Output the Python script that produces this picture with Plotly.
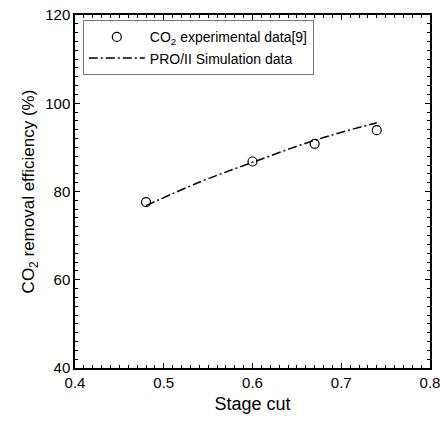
import plotly.graph_objects as go

exp_stage_cut = [0.48, 0.60, 0.67, 0.74]
exp_efficiency = [77.6, 86.8, 90.8, 93.9]

sim_stage_cut = [0.48, 0.54, 0.60, 0.67, 0.74]
sim_efficiency = [76.8, 82.1, 86.6, 91.6, 95.6]

x_ticks = [0.4, 0.5, 0.6, 0.7, 0.8]
y_ticks = [40, 60, 80, 100, 120]

font = "Liberation Sans, Arial, sans-serif"

fig = go.Figure()
fig.add_trace(go.Scatter(
    x=exp_stage_cut, y=exp_efficiency, mode="markers",
    name="CO<sub>2</sub> experimental data[9]",
    marker=dict(symbol="circle-open", size=9, color="black", line=dict(width=1.2, color="black")),
))
fig.add_trace(go.Scatter(
    x=sim_stage_cut, y=sim_efficiency, mode="lines",
    name="PRO/II Simulation data",
    line=dict(color="black", width=1.5, dash="9px,3px,2px,3px", shape="spline"),
))

axis_common = dict(
    showline=True, linecolor="black", linewidth=1.5, mirror="ticks",
    ticks="inside", ticklen=5, tickwidth=1, tickcolor="black",
    showgrid=False, zeroline=False, automargin=False,
    ticklabeloverflow="allow",
    tickfont=dict(family=font, size=15, color="black"),
)

fig.update_xaxes(
    range=[0.4, 0.8], tickvals=x_ticks, ticktext=[f"{v:.1f}" for v in x_ticks],
    minor=dict(dtick=0.01, ticks="inside", ticklen=3, tickcolor="black", tickwidth=1),
    title=dict(text="Stage cut", font=dict(family=font, size=18, color="black"), standoff=8),
    **axis_common,
)
fig.update_yaxes(
    range=[40, 120], tickvals=y_ticks,
    minor=dict(dtick=2, ticks="inside", ticklen=3, tickcolor="black", tickwidth=1),
    title=dict(text="CO<sub>2</sub> removal efficiency (%)", font=dict(family=font, size=17, color="black"), standoff=6),
    **axis_common,
)

fig.update_layout(
    width=443, height=422,
    margin=dict(l=75, r=13, t=15, b=54),
    paper_bgcolor="white", plot_bgcolor="white",
    showlegend=True,
    hovermode=False,
    legend=dict(
        x=0.022, y=0.985, xanchor="left", yanchor="top",
        bordercolor="#777777", borderwidth=1, bgcolor="white",
        font=dict(family=font, size=14, color="black"),
        tracegroupgap=0, itemwidth=56,
    ),
)

fig.write_html(
    "out.html",
    config={"displayModeBar": False},
    post_script="document.body.style.margin='0';document.body.style.overflow='hidden';",
)
